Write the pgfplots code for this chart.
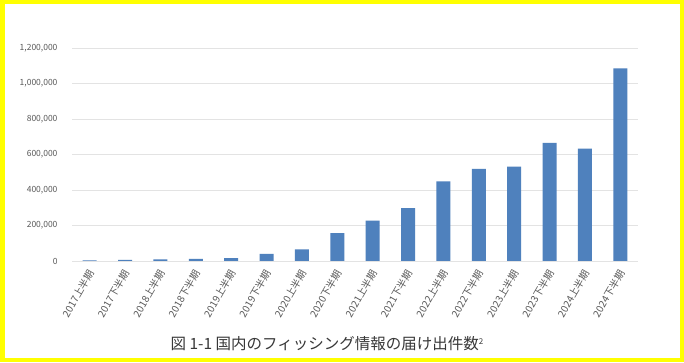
\documentclass[border=0pt]{standalone}
\usepackage{fontspec}
\setmainfont{Noto Sans CJK JP}
\usepackage{pgfplots}
\pgfplotsset{compat=1.18}
\definecolor{barblue}{HTML}{4F81BD}
\definecolor{ticktext}{HTML}{595959}
\definecolor{gridc}{HTML}{E3E3E3}
\definecolor{frameY}{HTML}{FFFF00}
\begin{document}
\begin{tikzpicture}[x=1pt,y=1pt]
\useasboundingbox (0,0) rectangle (684,363);
\fill[white] (0,0) rectangle (684,363);
\begin{axis}[
  at={(72pt,102pt)}, anchor=south west,
  scale only axis,
  width=566pt, height=213pt,
  xmin=-0.5, xmax=15.5,
  ymin=0, ymax=1200000,
  ytick={0,200000,400000,600000,800000,1000000,1200000},
  scaled y ticks=false,
  /pgf/number format/.cd, fixed, 1000 sep={,}, assume math mode=true,
  /pgfplots/.cd,
  yticklabel style={font=\fontsize{8.5}{9}\selectfont, text=ticktext, xshift=-11pt},
  xtick=data,
  xticklabels={2017上半期,2017下半期,2018上半期,2018下半期,2019上半期,2019下半期,2020上半期,2020下半期,2021上半期,2021下半期,2022上半期,2022下半期,2023上半期,2023下半期,2024上半期,2024下半期},
  xticklabel style={font=\fontsize{10}{11}\selectfont, text=ticktext, xshift=2pt, yshift=-9pt, rotate=60, anchor=east, inner sep=1pt},
  axis line style={draw=none},
  axis x line*=bottom,
  x axis line style={draw=gridc, line width=0.8pt},
  ymajorgrids, grid style={gridc, line width=0.8pt},
  major tick length=0pt,
  ybar, bar width=14pt,
  clip=false,
]
\addplot[fill=barblue, draw=none] coordinates {
(0,3500) (1,6000) (2,8500) (3,11500) (4,16000) (5,40000) (6,66000) (7,157000)
(8,228000) (9,298000) (10,449000) (11,519000) (12,532000) (13,666000) (14,633000) (15,1085000)
};
\end{axis}
\node[font=\fontsize{15.5}{16}\selectfont, text=black!78] at (327,19) {図 1-1 国内のフィッシング情報の届け出件数{\fontsize{8}{8}\selectfont\raisebox{5pt}{2}}};
\draw[frameY, line width=4.5pt] (2.25,2.75) rectangle (681.75,360.75);
\end{tikzpicture}
\end{document}
